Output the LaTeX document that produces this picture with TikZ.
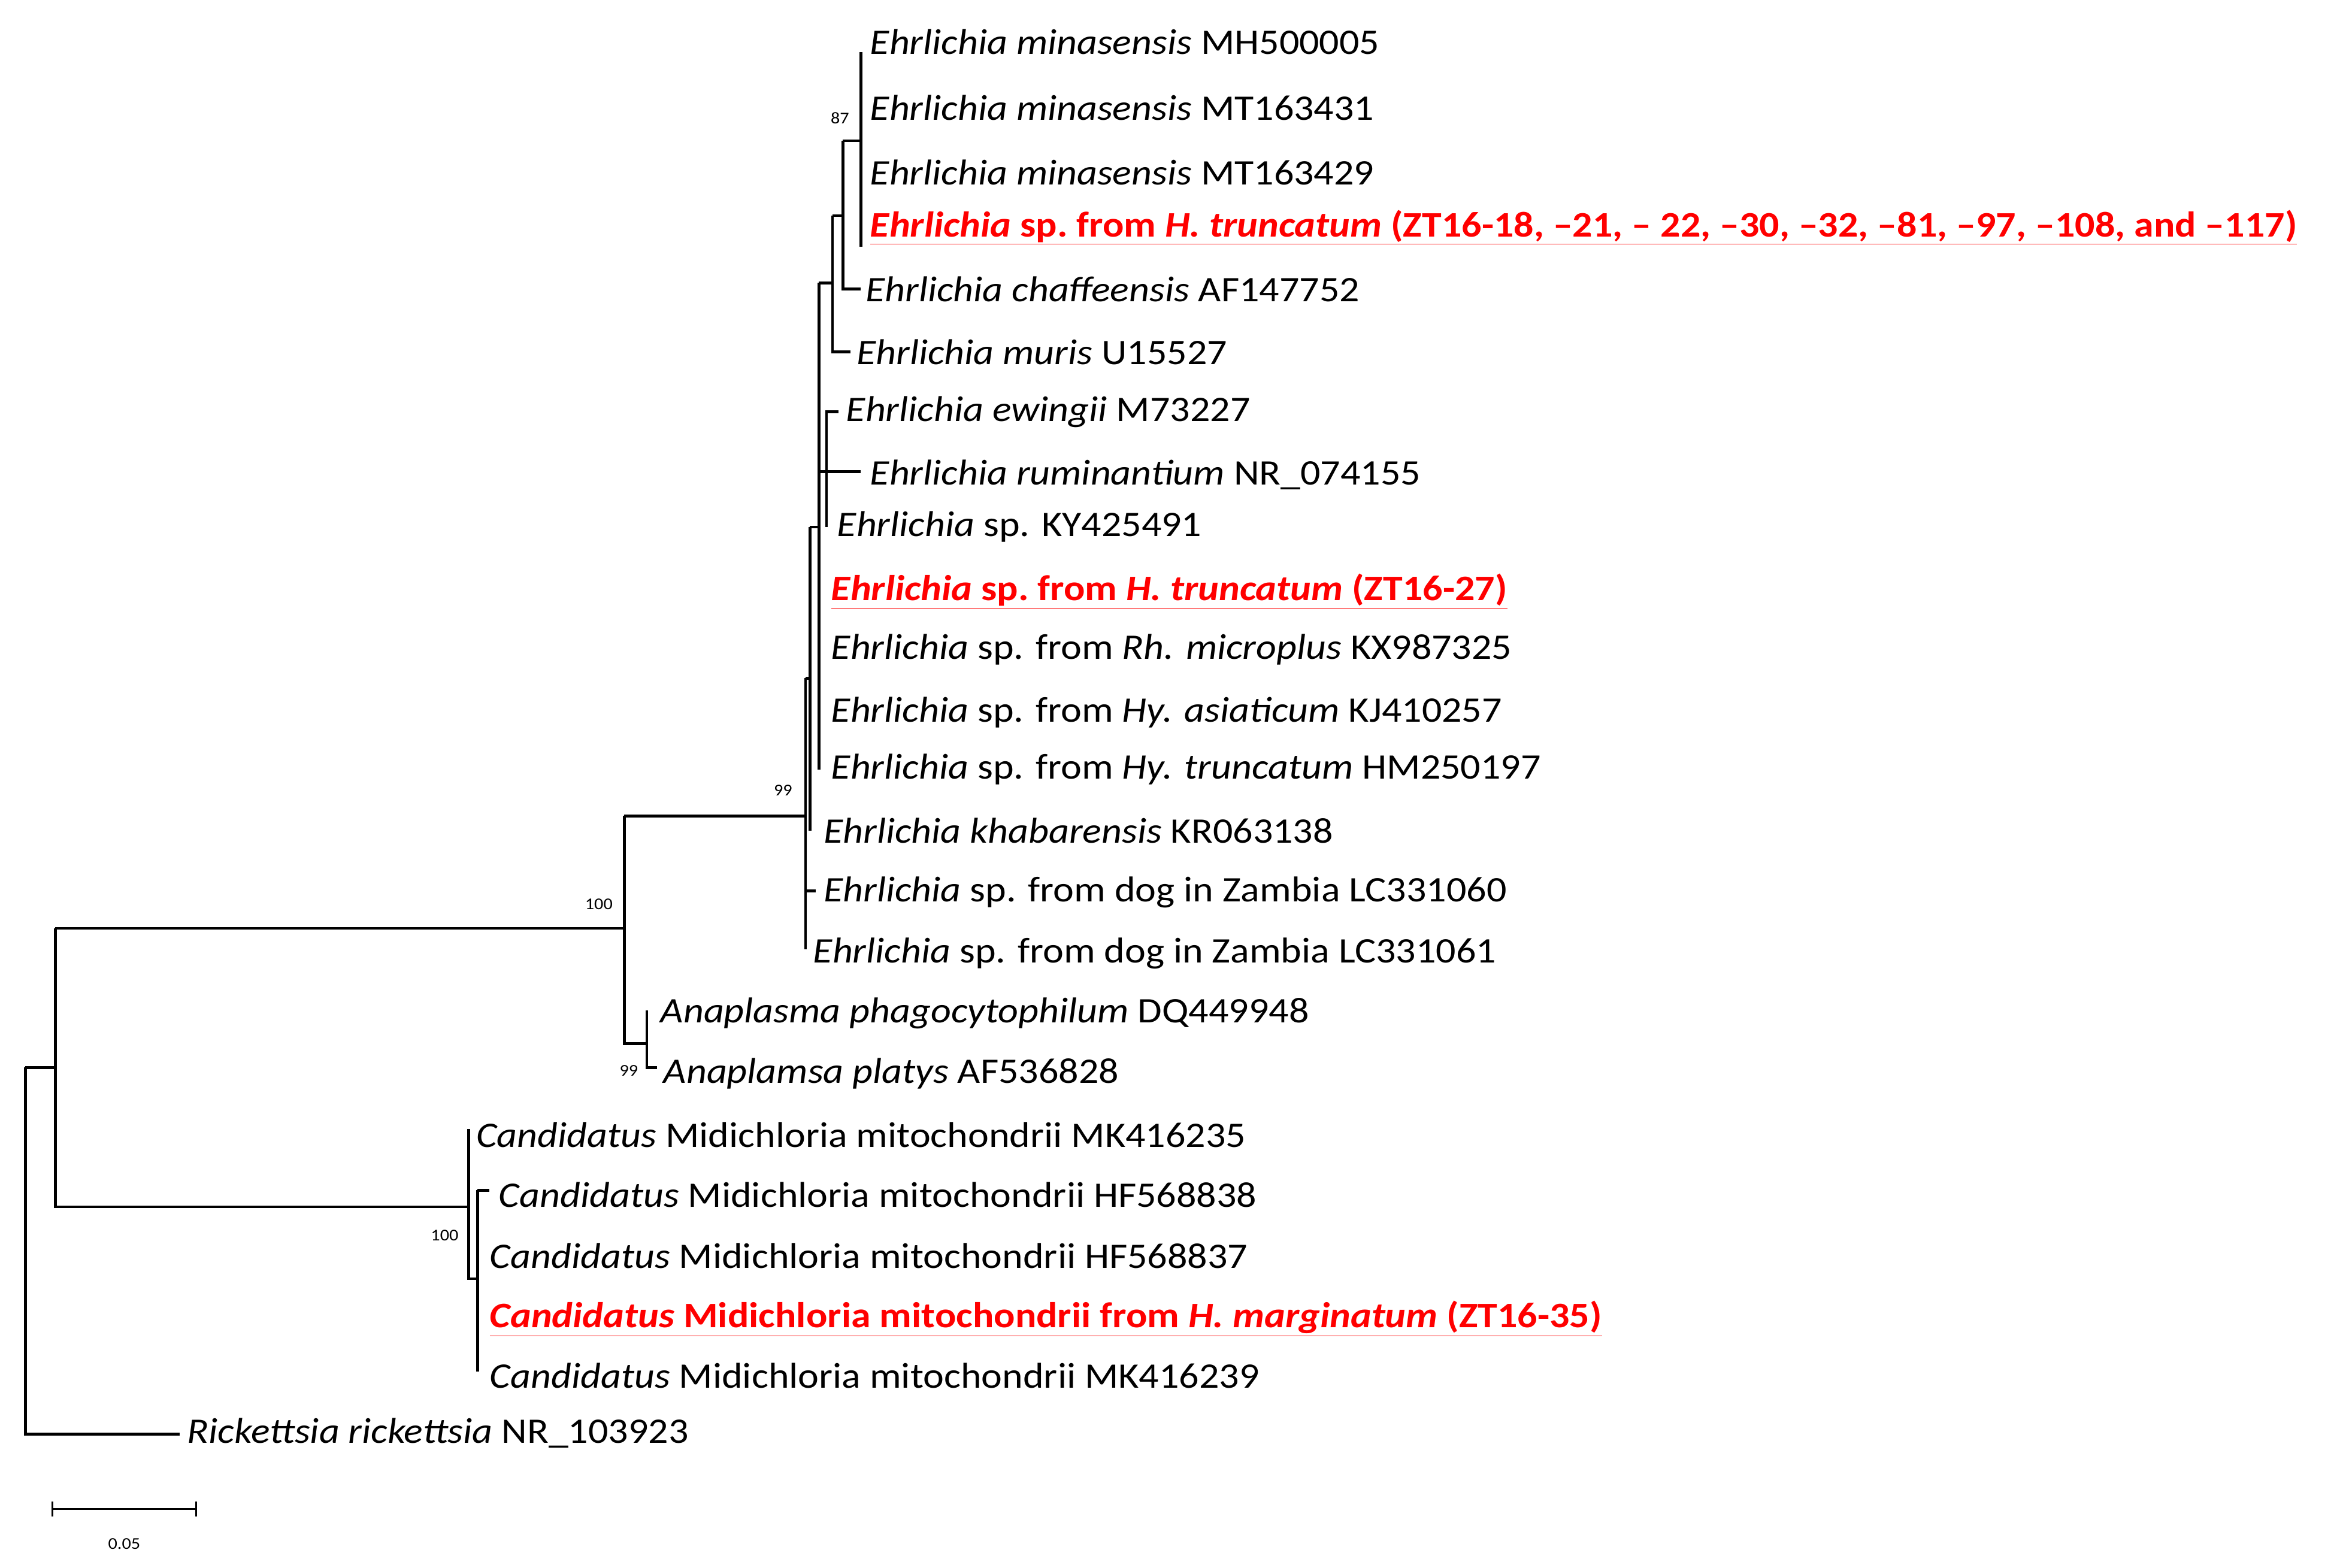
\documentclass[tikz,border=0pt]{standalone}
\usepackage{fontspec}
\setmainfont{Carlito}[FakeStretch=1.1]
\begin{document}
\begin{tikzpicture}[x=1pt,y=-1pt,
  lf/.style={anchor=west,inner sep=0pt,font=\fontsize{24}{26}\selectfont},
  hl/.style={lf,text=red,font=\fontsize{24}{26}\selectfont\bfseries},
  br/.style={line width=1.8pt},
  bs/.style={font=\fontsize{11}{12}\selectfont,inner sep=0pt}]
\useasboundingbox (0,0) rectangle (1563,1047);
\newcommand{\ul}[1]{\underline{#1}}
% leaves
\node[lf] (l1) at (581,28) {\textit{Ehrlichia minasensis} MH500005};
\node[lf] (l2) at (581,72) {\textit{Ehrlichia minasensis} MT163431};
\node[lf] (l3) at (581,115) {\textit{Ehrlichia minasensis} MT163429};
\node[hl] (l4) at (581,152) {\ul{\textit{Ehrlichia}\ sp.\ from \textit{H.\ truncatum} (ZT16-18, –21, – 22, –30, –32, –81, –97, –108, and –117)}};
\node[lf] (l5) at (578,193) {\textit{Ehrlichia chaffeensis} AF147752};
\node[lf] (l6) at (572,235) {\textit{Ehrlichia muris} U15527};
\node[lf] (l7) at (565,275) {\textit{Ehrlichia ewingii} M73227};
\node[lf] (l8) at (581,317) {\textit{Ehrlichia ruminantium} NR\_074155};
\node[lf] (l9) at (559,352) {\textit{Ehrlichia} sp. KY425491};
\node[hl] (l10) at (555,395) {\ul{\textit{Ehrlichia}\ sp.\ from \textit{H.\ truncatum} (ZT16-27)}};
\node[lf] (l11) at (555,434) {\textit{Ehrlichia} sp. from \textit{Rh. microplus} KX987325};
\node[lf] (l12) at (555,476) {\textit{Ehrlichia} sp. from \textit{Hy. asiaticum} KJ410257};
\node[lf] (l13) at (555,514) {\textit{Ehrlichia} sp. from \textit{Hy. truncatum} HM250197};
\node[lf] (l14) at (550,555) {\textit{Ehrlichia khabarensis} KR063138};
\node[lf] (l15) at (550,596) {\textit{Ehrlichia} sp. from dog in Zambia LC331060};
\node[lf] (l16) at (543,637) {\textit{Ehrlichia} sp. from dog in Zambia LC331061};
\node[lf] (l17) at (441,677) {\textit{Anaplasma phagocytophilum} DQ449948};
\node[lf] (l18) at (443,717) {\textit{Anaplamsa platys} AF536828};
\node[lf] (l19) at (318,758) {\textit{Candidatus} Midichloria mitochondrii MK416235};
\node[lf] (l20) at (333,798) {\textit{Candidatus} Midichloria mitochondrii HF568838};
\node[lf] (l21) at (327,839) {\textit{Candidatus} Midichloria mitochondrii HF568837};
\node[hl] (l22) at (327,881) {\ul{\textit{Candidatus}\ Midichloria\ mitochondrii\ from \textit{H.\ marginatum} (ZT16-35)}};
\node[lf] (l23) at (327,919) {\textit{Candidatus} Midichloria mitochondrii MK416239};
\node[lf] (l24) at (125,957) {\textit{Rickettsia rickettsia} NR\_103923};
% branches
\draw[br] (575,35) -- (575,165);
\draw[br] (563,94) -- (575,94);
\draw[br] (563,94) -- (563,193) -- (575,193);
\draw[br] (556,144) -- (563,144);
\draw[br] (556,144) -- (556,235) -- (568,235);
\draw[br] (547,189) -- (556,189);
\draw[br] (547,189) -- (547,514);
\draw[br] (560,275) -- (552,275) -- (552,352);
\draw[br] (547,315) -- (575,315);
\draw[br] (541,352) -- (547,352);
\draw[br] (541,352) -- (541,555);
\draw[br] (538,453) -- (541,453);
\draw[br] (538,453) -- (538,634);
\draw[br] (538,595) -- (545,595);
\draw[br] (417,545) -- (538,545);
\draw[br] (417,545) -- (417,697) -- (432,697);
\draw[br] (432,675) -- (432,713) -- (439,713);
\draw[br] (37,620) -- (417,620);
\draw[br] (37,620) -- (37,806) -- (313,806);
\draw[br] (313,754) -- (313,854) -- (319,854);
\draw[br] (319,795) -- (319,916);
\draw[br] (319,795) -- (327,795);
\draw[br] (17,713) -- (37,713);
\draw[br] (17,713) -- (17,958) -- (120,958);
% bootstrap
\node[bs] (b87) at (561,79) {87};
\node[bs] (b99a) at (523,528) {99};
\node[bs] (b100a) at (400,604) {100};
\node[bs] (b99b) at (420,715) {99};
\node[bs] (b100b) at (297,825) {100};
% scale bar
\draw[line width=1.4pt] (35,1003) -- (35,1013) (35,1008) -- (131,1008) (131,1003) -- (131,1013);
\node[bs] (sc) at (83,1031) {0.05};
\end{tikzpicture}
\end{document}
